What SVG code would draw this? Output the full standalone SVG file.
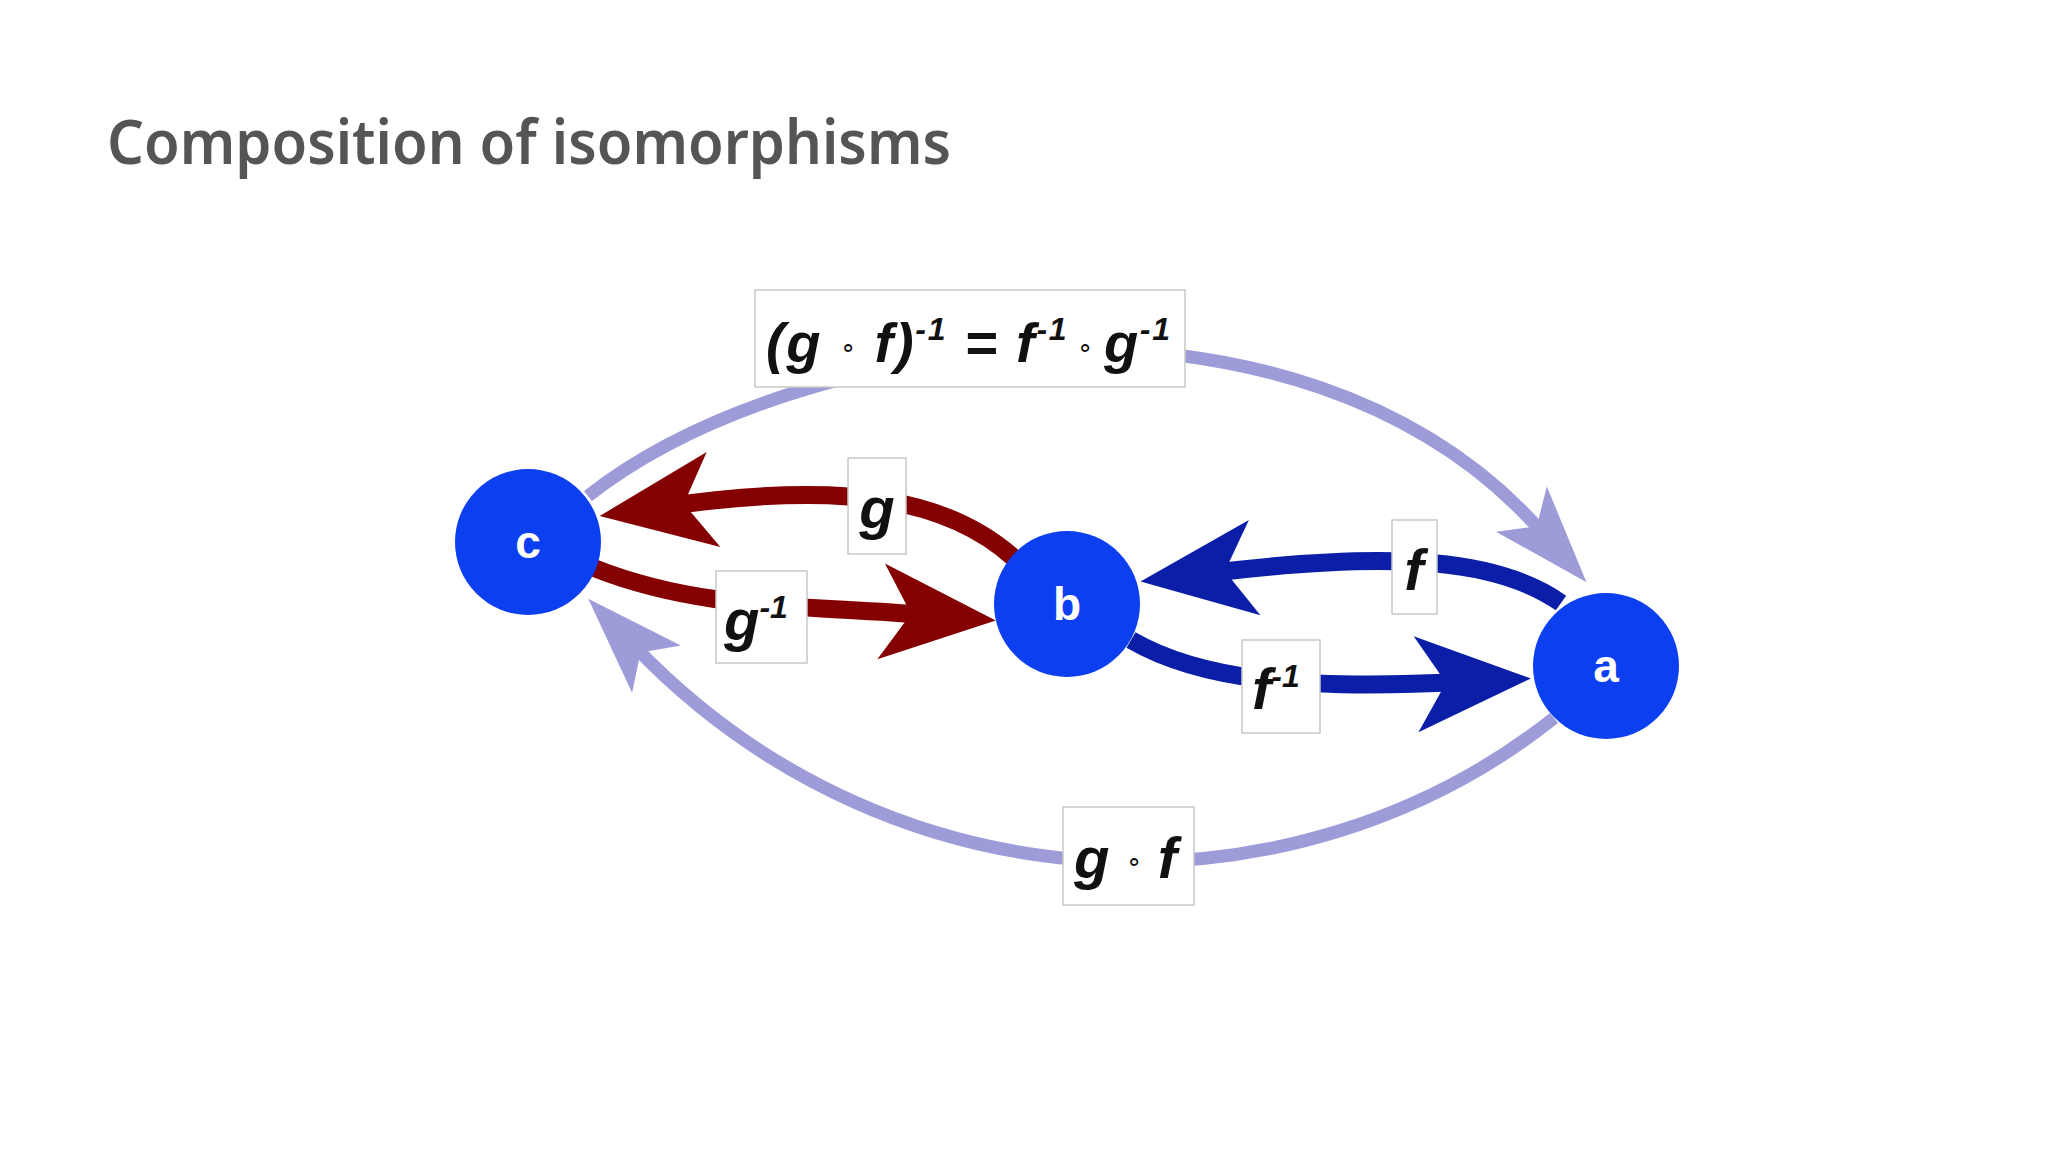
<svg xmlns="http://www.w3.org/2000/svg" width="2048" height="1152" viewBox="0 0 2048 1152">
<style>
.t{font-family:"Liberation Sans",Arial,sans-serif;font-weight:bold;font-style:italic;fill:#111}
.lbl{fill:#fff;stroke:#c8c8c8;stroke-width:1.5}
.nd{fill:#0c3ff0}
.nt{font-family:"Liberation Sans",Arial,sans-serif;font-weight:bold;fill:#fff;font-size:46px;text-anchor:middle}
.c{font-size:26px;font-style:normal;font-weight:normal}
</style>
<defs>
<marker id="ml" markerUnits="userSpaceOnUse" orient="auto" markerWidth="200" markerHeight="200" refX="0" refY="0" viewBox="-100 -100 200 200" overflow="visible"><path d="M70,0 L-28,-34 L-5,0 L-28,34 Z" fill="#9e9bd9"/></marker>
<marker id="mr" markerUnits="userSpaceOnUse" orient="auto" markerWidth="200" markerHeight="200" refX="0" refY="0" viewBox="-100 -100 200 200" overflow="visible"><path d="M70,0 L-45,-48 L-15,0 L-45,48 Z" fill="#850000"/></marker>
<marker id="mb" markerUnits="userSpaceOnUse" orient="auto" markerWidth="200" markerHeight="200" refX="0" refY="0" viewBox="-100 -100 200 200" overflow="visible"><path d="M70,0 L-45,-48 L-15,0 L-45,48 Z" fill="#0a1ea8"/></marker>
</defs>
<rect width="2048" height="1152" fill="#fff"/>
<text x="107" y="164" font-family="'Noto Sans',sans-serif" font-size="62" font-weight="600" fill="#555" textLength="844" lengthAdjust="spacingAndGlyphs">Composition of isomorphisms</text>
<g id="connectors" fill="none">
<path d="M588,496 C800,330 1300,260 1540,530" stroke="#9e9bd9" stroke-width="13" marker-end="url(#ml)"/>
<path d="M1554,718 C1300,920 900,920 637,649" stroke="#9e9bd9" stroke-width="13" marker-end="url(#ml)"/>
<path d="M1015,559 C950,500 850,480 669,506" stroke="#850000" stroke-width="18" marker-end="url(#mr)"/>
<path d="M594,568 C700,610 800,605 926,615" stroke="#850000" stroke-width="18" marker-end="url(#mr)"/>
<path d="M1561,603 C1500,560 1400,550 1210,573" stroke="#0a1ea8" stroke-width="18" marker-end="url(#mb)"/>
<path d="M1131,640 C1200,680 1300,690 1461,682" stroke="#0a1ea8" stroke-width="18" marker-end="url(#mb)"/>
</g>
<g id="label-top"><rect class="lbl" x="755" y="290" width="430" height="97"/>
<text class="t" x="766" y="362" font-size="56" textLength="404">(g <tspan class="c" dy="-6">∘</tspan><tspan dy="6"> f)</tspan><tspan font-size="32" dy="-22">-1</tspan><tspan dy="22"> = f</tspan><tspan font-size="32" dy="-22">-1</tspan><tspan class="c" dy="16"> ∘ </tspan><tspan dy="6">g</tspan><tspan font-size="32" dy="-22">-1</tspan></text></g>
<g id="label-g"><rect class="lbl" x="848" y="458" width="58" height="96"/><text class="t" x="877" y="528" font-size="58" text-anchor="middle">g</text></g>
<g id="label-ginv"><rect class="lbl" x="716" y="571" width="91" height="92"/><text class="t" x="724" y="640" font-size="58">g<tspan font-size="32" dy="-22">-1</tspan></text></g>
<g id="label-f"><rect class="lbl" x="1392" y="520" width="45" height="94"/><text class="t" x="1414" y="590" font-size="58" text-anchor="middle">f</text></g>
<g id="label-finv"><rect class="lbl" x="1242" y="640" width="78" height="93"/><text class="t" x="1252" y="709" font-size="58">f<tspan font-size="32" dy="-22">-1</tspan></text></g>
<g id="label-gf"><rect class="lbl" x="1063" y="807" width="131" height="98"/><text class="t" x="1074" y="878" font-size="58">g <tspan class="c" dy="-8">∘</tspan><tspan dy="8"> f</tspan></text></g>
<g id="node-c"><circle class="nd" cx="528" cy="542" r="73"/><text class="nt" x="528" y="558">c</text></g>
<g id="node-b"><circle class="nd" cx="1067" cy="604" r="73"/><text class="nt" x="1067" y="620">b</text></g>
<g id="node-a"><circle class="nd" cx="1606" cy="666" r="73"/><text class="nt" x="1606" y="682">a</text></g>
</svg>
